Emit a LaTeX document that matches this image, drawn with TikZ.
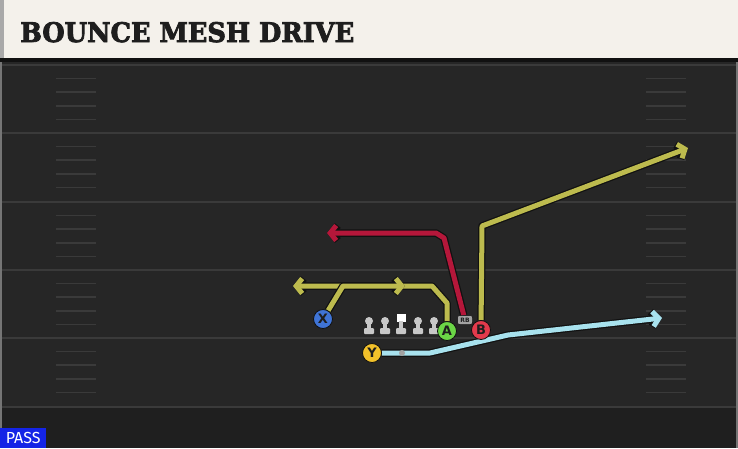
\documentclass[tikz,border=0pt]{standalone}
\usepackage{fontspec}
\usetikzlibrary{arrows.meta}
\newfontfamily\titlefont[BoldFeatures={FakeBold=3}]{DejaVu Serif}
\newfontfamily\markfont{DejaVu Sans}
\newfontfamily\tagfont{Fira Sans}
\definecolor{field}{HTML}{262626}
\definecolor{fieldlow}{HTML}{1F1F1F}
\definecolor{yardline}{HTML}{3A3A3A}
\definecolor{hashmark}{HTML}{3A3A3A}
\definecolor{banner}{HTML}{F4F1EB}
\definecolor{bannerside}{HTML}{A9A9A9}
\definecolor{titleink}{HTML}{1E1E1E}
\definecolor{outline}{HTML}{111111}
\definecolor{olive}{HTML}{BDBB4E}
\definecolor{crimson}{HTML}{B5173A}
\definecolor{skyblue}{HTML}{A8E2EE}
\definecolor{xblue}{HTML}{3F74D6}
\definecolor{agreen}{HTML}{6BD646}
\definecolor{bred}{HTML}{E23A4C}
\definecolor{yyellow}{HTML}{F2C12A}
\definecolor{passblue}{HTML}{1424E6}
\definecolor{lineman}{HTML}{C8C8C8}
\definecolor{tagtext}{HTML}{A2A2A2}
\newcommand{\route}[2]{%
  \draw [routeedge] #2;
  \draw [routeline, draw=#1] #2;
}
\pgfdeclarelayer{players}
\pgfsetlayers{main,players}
\tikzset{
  player/.style={circle, draw=outline, line width=0.8pt, minimum size=19pt,
    inner sep=0pt, text=titleink, font=\markfont\bfseries\fontsize{13}{13}\selectfont},
  routeline/.style={line width=5pt, line join=round,
    -{Straight Barb[length=6pt, width=15pt]}},
  routeedge/.style={line width=7.5pt, line join=round, draw=outline,
    -{Straight Barb[length=6pt, width=15pt]}},
  hashline/.style={draw=hashmark, line width=1.5pt},
  lineman/.pic={
    \fill [lineman] (0,-5) circle (4);
    \fill [lineman] (-2,-5) rectangle (2,4);
    \fill [lineman, rounded corners=1pt] (-5,2) rectangle (5,8);
  },
  centerman/.pic={
    \fill [white] (-4.5,-12.5) rectangle (4.5,-4);
    \fill [lineman] (-2,-5) rectangle (2,4);
    \fill [lineman, rounded corners=1pt] (-5,2) rectangle (5,8);
  },
}

\begin{document}
\begin{tikzpicture}[x=1pt, y=-1pt]
  \useasboundingbox (0,0) rectangle (738,448);
  % field
  \fill [field] (0,0) rectangle (738,448);
  \fill [fieldlow] (0,407) rectangle (738,448);
  \foreach \y in {65,133,202,270,338,407}
    \draw [yardline, line width=1.5pt] (0,\y) -- (738,\y);
  \foreach \y in {65,133,202,270,338}
    \foreach \k in {1,...,4} {
      \draw [hashline] (56,{\y+13.6*\k}) -- (96,{\y+13.6*\k});
      \draw [hashline] (646,{\y+13.6*\k}) -- (686,{\y+13.6*\k});
    }
  \draw [bannerside!60!field, line width=1.5pt] (1,60) -- (1,448);
  \draw [bannerside!60!field, line width=1.5pt] (737,60) -- (737,448);
  % banner
  \fill [outline] (0,56) rectangle (738,62);
  \fill [banner] (0,0) rectangle (738,58);
  \fill [bannerside] (0,0) rectangle (4,58);
  \node [anchor=base west, inner sep=0pt, text=titleink,
    font=\titlefont\bfseries\fontsize{27}{27}\selectfont] (title) at (20,42)
    {\resizebox{334pt}{20pt}{BOUNCE MESH DRIVE}};
  \node [anchor=south west, fill=passblue, text=white, inner sep=0pt,
    minimum width=46pt, minimum height=20pt,
    font=\tagfont\fontsize{16}{16}\selectfont] (pass) at (0,448) {PASS};

  % players
  \begin{pgfonlayer}{players}
    \pic at (369,326) {lineman};
    \pic at (385,326) {lineman};
    \pic at (401,326) {centerman};
    \pic at (418,326) {lineman};
    \pic at (434,326) {lineman};
    \node [player, fill=xblue] (X) at (323,319) {X};
    \node [player, fill=agreen] (A) at (447,331) {A};
    \node [player, fill=bred] (B) at (481,330) {B};
    \node [player, fill=yyellow] (Y) at (372,353) {Y};
    \node [fill=tagtext, draw=outline, line width=0.5pt, rounded corners=2pt,
      minimum width=15pt, minimum height=9pt, inner sep=0pt, text=titleink,
      font=\markfont\bfseries\fontsize{6}{6}\selectfont] (rb) at (465,320) {RB};
    \node [circle, fill=tagtext, minimum size=6pt, inner sep=0pt] (ydot) at (402,353) {};
  \end{pgfonlayer}

  % routes
  \coordinate (xb) at (343,286);
  \coordinate (xe) at (405,286);
  \coordinate (a1) at (447,303);
  \coordinate (a2) at (432,286);
  \coordinate (ae) at (293,286);
  \coordinate (r1) at (444,238);
  \coordinate (r2) at (436,233);
  \coordinate (re) at (327,233);
  \coordinate (b1) at (482,226);
  \coordinate (be) at (688,148);
  \coordinate (y1) at (430,353);
  \coordinate (y2) at (508,335);
  \coordinate (ye) at (662,318);
  \route{olive}{(A) -- (a1) -- (a2) -- (ae)}
  \route{olive}{(X) -- (xb) -- (xe)}
  \route{crimson}{(rb) -- (r1) -- (r2) -- (re)}
  \route{olive}{(B) -- (b1) -- (be)}
  \route{skyblue}{(Y) -- (y1) -- (y2) -- (ye)}
\end{tikzpicture}
\end{document}
